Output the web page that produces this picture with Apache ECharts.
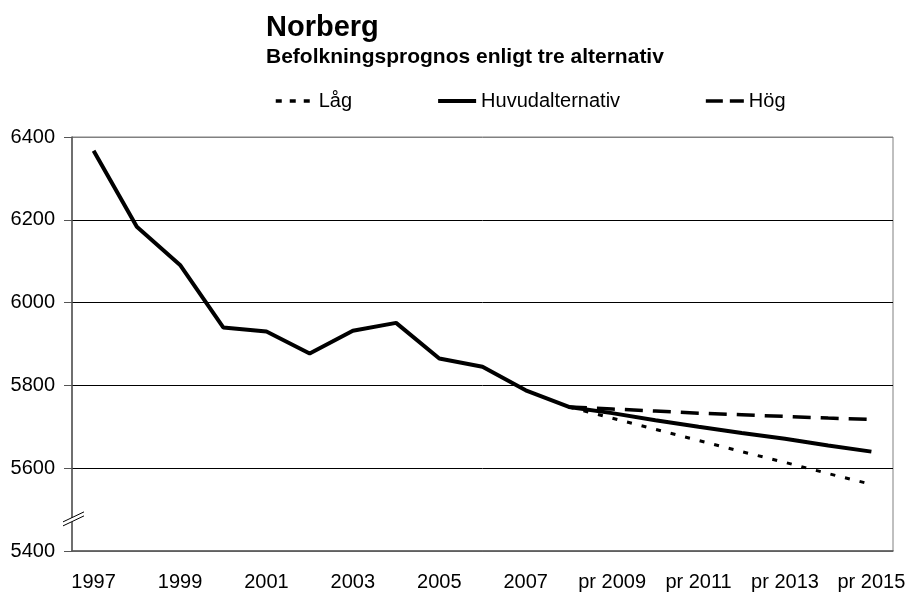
<!DOCTYPE html>
<html>
<head>
<meta charset="utf-8">
<script src="https://cdn.jsdelivr.net/npm/echarts@6/dist/echarts.min.js"></script>
<style>
html, body { margin: 0; padding: 0; background: #fff; }
#chart { width: 910px; height: 593px; }
</style>
</head>
<body>
<div id="chart"></div>
<script>
var years = ['1997', '1998', '1999', '2000', '2001', '2002', '2003', '2004', '2005', '2006', '2007', '2008',
    'pr 2009', 'pr 2010', 'pr 2011', 'pr 2012', 'pr 2013', 'pr 2014', 'pr 2015'];
var lag = [null, null, null, null, null, null, null, null, null, null, null, 5748,
    5721, 5694, 5667, 5640, 5614, 5587, 5561];
var huvud = [6367, 6183, 6091, 5940, 5930, 5877, 5932, 5951, 5865, 5845, 5788, 5748,
    5733, 5716, 5700, 5685, 5671, 5655, 5640];
var hog = [null, null, null, null, null, null, null, null, null, null, null, 5748,
    5743, 5738, 5733, 5729, 5725, 5721, 5718];
var yTicks = [5400, 6400, 200];

var font = '"Liberation Sans", Arial, sans-serif';
var chart = echarts.init(document.getElementById('chart'));

var option = {
    animation: false,
    title: {
        text: 'Norberg',
        subtext: 'Befolkningsprognos enligt tre alternativ',
        left: 266,
        top: 13,
        padding: 0,
        itemGap: 5,
        textStyle: { fontFamily: font, fontSize: 29, fontWeight: 'bold', color: '#000' },
        subtextStyle: { fontFamily: font, fontSize: 21, fontWeight: 'bold', color: '#000' }
    },
    legend: {
        left: 269,
        top: 86,
        itemWidth: 38,
        itemHeight: 20,
        itemGap: 84,
        itemStyle: { opacity: 0 },
        lineStyle: { width: 4 },
        textStyle: { fontFamily: font, fontSize: 20, color: '#000' },
        data: [
            { name: 'Låg', lineStyle: { width: 3.5, type: [6, 8] } },
            { name: 'Huvudalternativ' },
            { name: 'Hög', lineStyle: { width: 3.5, type: [17, 7] } }
        ]
    },
    grid: {
        left: 72,
        right: 17,
        top: 137,
        bottom: 42,
        show: true,
        borderColor: '#808080',
        borderWidth: 1
    },
    xAxis: {
        type: 'category',
        data: years,
        boundaryGap: true,
        axisLine: { lineStyle: { color: '#555', width: 1.5 } },
        axisTick: { interval: 0, length: 7, lineStyle: { color: '#555' } },
        axisLabel: { interval: 1, margin: 21, fontFamily: font, fontSize: 20, color: '#000' }
    },
    yAxis: {
        type: 'value',
        min: yTicks[0],
        max: yTicks[1],
        interval: yTicks[2],
        axisLine: { show: true, lineStyle: { color: '#555', width: 1.5 } },
        axisTick: { show: true, length: 8, lineStyle: { color: '#555' } },
        axisLabel: {
            margin: 17, fontFamily: font, fontSize: 20, color: '#000',
            formatter: function (v) { return String(v); }
        },
        splitLine: { lineStyle: { color: ['#808080', '#000', '#000', '#000', '#000', '#808080'], width: 1 } }
    },
    series: [
        {
            name: 'Låg',
            type: 'line',
            symbol: 'none',
            data: lag,
            lineStyle: { color: '#000', width: 3, type: [5, 10] },
            itemStyle: { color: '#000' },
            z: 3
        },
        {
            name: 'Huvudalternativ',
            type: 'line',
            symbol: 'none',
            data: huvud,
            lineStyle: { color: '#000', width: 4 },
            itemStyle: { color: '#000' },
            z: 4
        },
        {
            name: 'Hög',
            type: 'line',
            symbol: 'none',
            data: hog,
            lineStyle: { color: '#000', width: 3.5, type: [18, 10] },
            itemStyle: { color: '#000' },
            z: 3
        }
    ]
};
chart.setOption(option);

// axis break mark on the y axis
var p = chart.convertToPixel({ gridIndex: 0 }, [0, 5480]);
var ax = 72;
chart.setOption({
    graphic: [
        {
            type: 'polygon',
            shape: { points: [[ax - 9, p[1] + 4], [ax + 12, p[1] - 6], [ax + 12, p[1] - 2], [ax - 9, p[1] + 8]] },
            style: { fill: '#fff', stroke: null },
            z: 100
        },
        {
            type: 'line',
            shape: { x1: ax - 9, y1: p[1] + 4, x2: ax + 12, y2: p[1] - 6 },
            style: { stroke: '#000', lineWidth: 1 },
            z: 101
        },
        {
            type: 'line',
            shape: { x1: ax - 9, y1: p[1] + 8, x2: ax + 12, y2: p[1] - 2 },
            style: { stroke: '#000', lineWidth: 1 },
            z: 101
        }
    ]
});
</script>
</body>
</html>
